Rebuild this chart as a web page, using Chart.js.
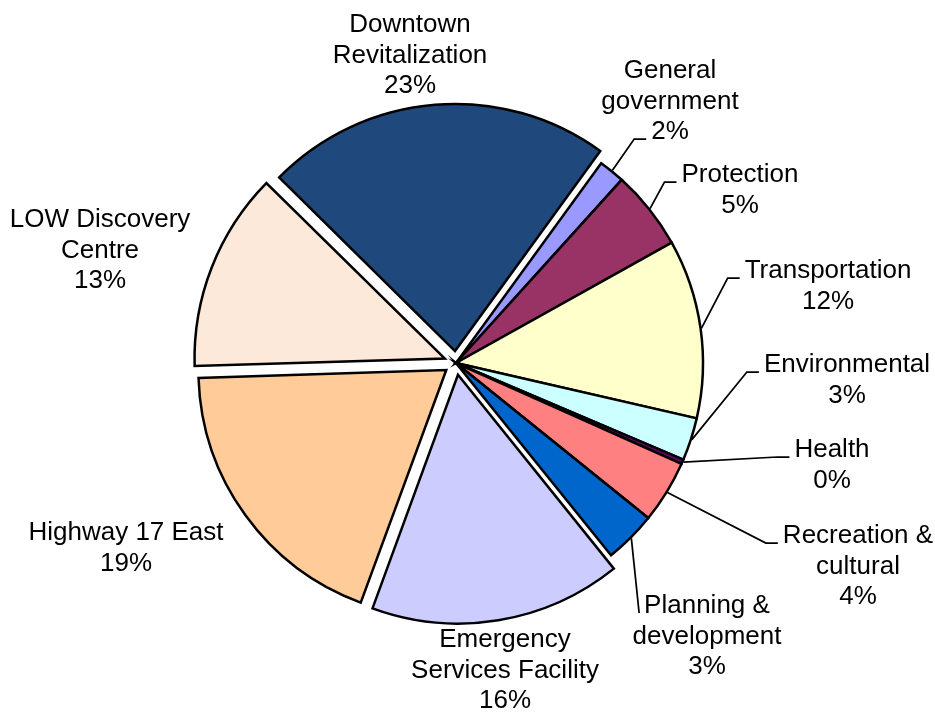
<!DOCTYPE html>
<html>
<head>
<meta charset="utf-8">
<script src="https://cdn.jsdelivr.net/npm/chart.js@4/dist/chart.umd.min.js"></script>
<style>
  html, body { margin: 0; padding: 0; background: #fff; }
</style>
</head>
<body>
<canvas id="pie" width="935" height="712"></canvas>
<script>
// Capital spending by function, share of total (%)
const categories = [
  ['General', 'government'],
  ['Protection'],
  ['Transportation'],
  ['Environmental'],
  ['Health'],
  ['Recreation &', 'cultural'],
  ['Planning &', 'development'],
  ['Emergency', 'Services Facility'],
  ['Highway 17 East'],
  ['LOW Discovery', 'Centre'],
  ['Downtown', 'Revitalization']
];
const shares = [1.7, 5.2, 11.7, 2.8, 0.3, 4.1, 3.4, 16.4, 18.9, 12.9, 22.6];

const sliceColors = [
  '#9999FF', '#993366', '#FFFFCC', '#CCFFFF', '#660066', '#FF8080',
  '#0066CC', '#CCCCFF', '#FFCC99', '#FDE9D9', '#1F497D'
];

// where each label sits: centre x / first baseline, relative to the pie centre.
// leader = which text line the leader line runs to (null = no leader)
const labelLayout = [
  { dx: 214, dy: -285, leader: 2 },
  { dx: 284, dy: -181, leader: 0 },
  { dx: 372, dy: -85, leader: 0 },
  { dx: 391, dy: 9, leader: 0 },
  { dx: 376, dy: 94, leader: 0 },
  { dx: 402, dy: 180, leader: 0 },
  { dx: 251, dy: 250, leader: 0, stub: 0 },
  { dx: 49, dy: 284, leader: null },
  { dx: -330, dy: 177, leader: null },
  { dx: -356, dy: -136, leader: null },
  { dx: -46, dy: -331, leader: null }
];

const sliceLabels = {
  id: 'sliceLabels',
  afterDatasetsDraw(chart, args, opts) {
    const ctx = chart.ctx;
    const meta = chart.getDatasetMeta(0);
    const values = chart.data.datasets[0].data;
    const total = values.reduce((a, b) => a + b, 0);

    ctx.save();
    ctx.font = opts.font;
    ctx.fillStyle = '#000';
    ctx.strokeStyle = '#000';
    ctx.lineWidth = 1.75;
    ctx.textAlign = 'center';
    ctx.textBaseline = 'alphabetic';

    meta.data.forEach((arc, i) => {
      const p = arc.getProps(['x', 'y', 'startAngle', 'endAngle', 'outerRadius'], true);
      const spot = opts.layout[i];
      const pct = Math.round(values[i] / total * 100) + '%';
      const lines = [].concat(chart.data.labels[i], pct);
      const cx = p.x + spot.dx;
      const top = p.y + spot.dy;

      lines.forEach((t, k) => ctx.fillText(t, cx, top + k * opts.lineHeight));

      if (spot.leader == null) return;
      // leader: from the middle of the slice's rim to the label, ending in a short flat stub
      const mid = (p.startAngle + p.endAngle) / 2;
      const r = p.outerRadius + 1;
      const ax = p.x + Math.cos(mid) * r;
      const ay = p.y + Math.sin(mid) * r;
      const w = ctx.measureText(lines[spot.leader]).width;
      const ex = cx - w / 2 - opts.gap;
      const ey = top + spot.leader * opts.lineHeight;
      const bx = ex - (spot.stub ?? opts.stub);

      ctx.beginPath();
      ctx.moveTo(ax, ay);
      ctx.lineTo(bx, ey);
      ctx.lineTo(ex, ey);
      ctx.stroke();
    });
    ctx.restore();
  }
};

new Chart(document.getElementById('pie'), {
  type: 'pie',
  data: {
    labels: categories,
    datasets: [{
      data: shares,
      backgroundColor: sliceColors,
      borderColor: '#000',
      borderWidth: 2.5,
      borderJoinStyle: 'miter',
      offset: [0, 0, 0, 0, 0, 0, 0, 48, 48, 48, 48]
    }]
  },
  options: {
    responsive: false,
    animation: false,
    rotation: 36,
    radius: 247,
    layout: { padding: { left: 0, right: 23, top: 14, bottom: 0 } },
    plugins: {
      legend: { display: false },
      tooltip: { enabled: false },
      sliceLabels: {
        layout: labelLayout,
        font: '26px "Liberation Sans", Arial, sans-serif',
        lineHeight: 30.5,
        gap: 5,
        stub: 12
      }
    }
  },
  plugins: [sliceLabels]
});
</script>
</body>
</html>
